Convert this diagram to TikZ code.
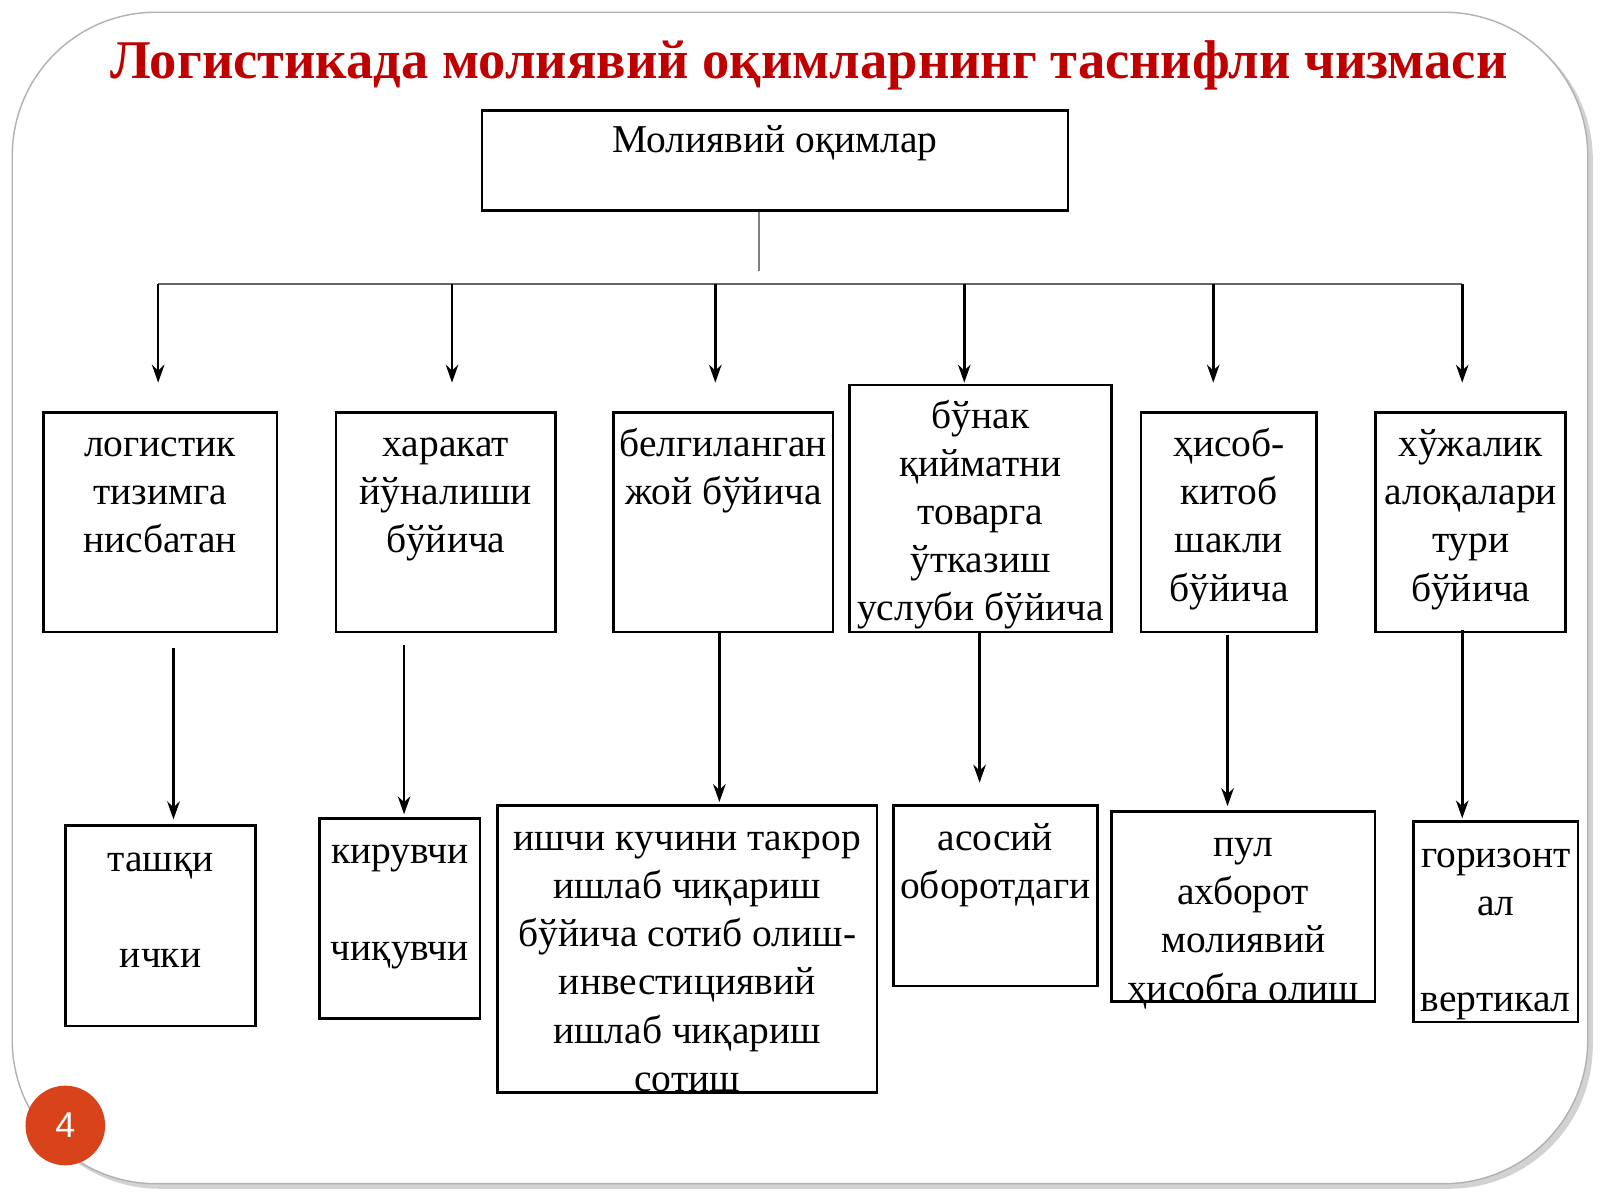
\documentclass[tikz,border=0pt]{standalone}
\usepackage{fontspec}
\setmainfont{Liberation Serif}
\setsansfont{Liberation Sans}
\usetikzlibrary{arrows.meta,shadows}
\definecolor{pgc}{HTML}{D9431B}
\newcommand{\mystr}{\strut}
\begin{document}
\begin{tikzpicture}[x=0.01cm,y=-0.01cm,
 box/.style={draw,line width=0.75pt,anchor=north west,inner sep=0pt},
 txt/.style={anchor=north,align=center,font=\fontsize{11}{13.4}\selectfont,inner sep=0pt},
 ln/.style={line width=0.6pt},
 arr/.style={line width=0.7pt,-{Stealth[length=5pt,width=3.5pt]}}]
\useasboundingbox (0,0) rectangle (1568,1176);
\fill[gray!35,rounded corners=40] (16,16) rectangle (1561,1165);
\draw[gray!60,fill=white,rounded corners=40] (12,12) rectangle (1556,1160);
\node[anchor=center,text=red!75!black,font=\fontsize{15.2}{18}\selectfont\bfseries] (title) at (793,64) {Логистикада молиявий оқимларнинг таснифли чизмаси};
% top
\node[box,minimum height=0.98cm,minimum width=5.74cm] (top) at (471,107) {};
\node[txt] at ([yshift=-0.09cm]top.north) {\mystr Молиявий оқимлар};
\coordinate (h0) at (744,208);
\coordinate (h1) at (744,266);
\draw[ln,gray] (h0) -- (h1);
\coordinate (hl) at (155,278); \coordinate (hr) at (1433,278);
\draw[ln,gray!80!black] (hl) -- (hr);
% row boxes
\node[box,minimum width=2.29cm,minimum height=2.15cm] (r1) at (41,403) {};
\node[box,minimum width=2.15cm,minimum height=2.15cm] (r2) at (328,403) {};
\node[box,minimum width=2.15cm,minimum height=2.15cm] (r3) at (600,403) {};
\node[box,minimum width=2.57cm,minimum height=2.42cm] (r4) at (831,376) {};
\node[box,minimum width=1.72cm,minimum height=2.15cm] (r5) at (1117,403) {};
\node[box,minimum width=1.86cm,minimum height=2.15cm] (r6) at (1347,403) {};
\node[txt] at ([yshift=-0.11cm]r1.north) {\mystr логистик\\тизимга\\нисбатан};
\node[txt] at ([yshift=-0.11cm]r2.north) {\mystr харакат\\йўналиши\\бўйича};
\node[txt] at ([yshift=-0.11cm]r3.north) {\mystr белгиланган\\жой бўйича};
\node[txt] at ([yshift=-0.10cm]r4.north) {\mystr бўнак\\қийматни\\товарга\\ўтказиш\\услуби бўйича};
\node[txt] at ([yshift=-0.11cm]r5.north) {\mystr ҳисоб-\\китоб\\шакли\\бўйича};
\node[txt] at ([yshift=-0.11cm]r6.north) {\mystr хўжалик\\алоқалари\\тури\\бўйича};
\foreach \x/\n in {155/1,443/2,701/3,945/4,1189/5,1433/6}{
  \coordinate (s\n) at (\x,278); \coordinate (e\n) at (\x,375);
  \draw[arr] (s\n) -- (e\n);}
% bottom boxes
\node[box,minimum width=1.86cm,minimum height=1.96cm] (b1) at (63,808) {};
\node[box,minimum width=1.57cm,minimum height=1.96cm] (b2) at (312,801) {};
\node[box,minimum width=3.72cm,minimum height=2.81cm] (b3) at (486,788) {};
\node[box,minimum width=2.00cm,minimum height=1.77cm] (b4) at (874,788) {};
\node[box,minimum width=2.58cm,minimum height=1.86cm] (b5) at (1088,794) {};
\node[box,minimum width=1.61cm,minimum height=1.96cm] (b6) at (1384,804) {};
\node[txt] at ([yshift=-0.12cm]b1.north) {\mystr ташқи\\[0pt]\strut\\ички};
\node[txt] at ([yshift=-0.12cm]b2.north) {\mystr кирувчи\\[0pt]\strut\\чиқувчи};
\node[txt] at ([yshift=-0.12cm]b3.north) {\mystr ишчи кучини такрор\\ишлаб чиқариш\\бўйича сотиб олиш-\\инвестициявий\\ишлаб чиқариш\\сотиш};
\node[txt] at ([yshift=-0.12cm]b4.north) {\mystr асосий\\оборотдаги};
\node[txt] at ([yshift=-0.12cm]b5.north) {\mystr пул\\ахборот\\молиявий\\ҳисобга олиш};
\node[txt] at ([yshift=-0.12cm]b6.north) {\mystr горизонт\\ал\\[0pt]\strut\\вертикал};
\coordinate (f1) at (170,635); \coordinate (t1) at (170,803);
\coordinate (f2) at (396,632); \coordinate (t2) at (396,798);
\coordinate (f3) at (705,620); \coordinate (t3) at (705,786);
\coordinate (f4) at (960,620); \coordinate (t4) at (960,767);
\coordinate (f5) at (1203,622); \coordinate (t5) at (1203,790);
\coordinate (f6) at (1433,617); \coordinate (t6) at (1433,802);
\foreach \n in {1,...,6} \draw[arr] (f\n) -- (t\n);
\node[circle,fill=pgc,minimum size=0.78cm,inner sep=0pt,text=white,font=\sffamily\fontsize{10}{12}\selectfont] (pg) at (64,1103) {4};
\end{tikzpicture}
\end{document}
